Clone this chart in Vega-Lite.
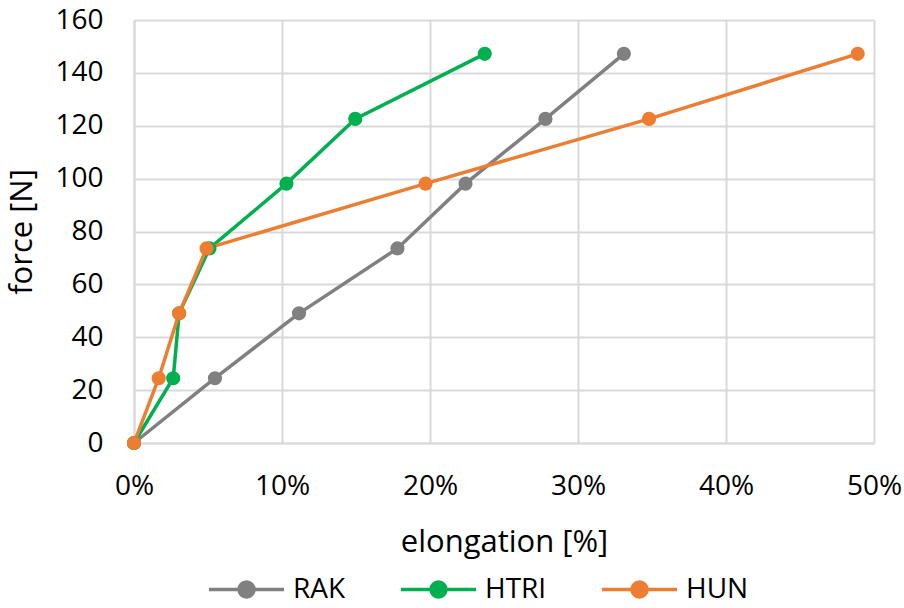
{
  "$schema": "https://vega.github.io/schema/vega-lite/v6.json",
  "width": 740,
  "height": 423,
  "autosize": {"type": "none"},
  "padding": {"left": 134, "top": 20, "right": 30, "bottom": 165},
  "background": "white",
  "config": {
    "font": "Open Sans",
    "view": {"stroke": null},
    "axis": {
      "labelFont": "Open Sans",
      "titleFont": "Open Sans",
      "labelFontSize": 28,
      "titleFontSize": 31,
      "labelColor": "#000000",
      "titleColor": "#000000",
      "titleFontWeight": "normal",
      "gridColor": "#D9D9D9",
      "gridWidth": 2,
      "domainColor": "#D9D9D9",
      "domainWidth": 2,
      "ticks": false
    }
  },
  "data": {
    "values": [
      {"series": "RAK", "elong": 0, "force": 0},
      {"series": "RAK", "elong": 0.0547, "force": 24.5},
      {"series": "RAK", "elong": 0.1115, "force": 49.05},
      {"series": "RAK", "elong": 0.178, "force": 73.6},
      {"series": "RAK", "elong": 0.224, "force": 98.1},
      {"series": "RAK", "elong": 0.278, "force": 122.6},
      {"series": "RAK", "elong": 0.331, "force": 147.2},
      {"series": "HTRI", "elong": 0, "force": 0},
      {"series": "HTRI", "elong": 0.0265, "force": 24.5},
      {"series": "HTRI", "elong": 0.0305, "force": 49.05},
      {"series": "HTRI", "elong": 0.051, "force": 73.6},
      {"series": "HTRI", "elong": 0.103, "force": 98.1},
      {"series": "HTRI", "elong": 0.1495, "force": 122.6},
      {"series": "HTRI", "elong": 0.237, "force": 147.2},
      {"series": "HUN", "elong": 0, "force": 0},
      {"series": "HUN", "elong": 0.0167, "force": 24.5},
      {"series": "HUN", "elong": 0.0305, "force": 49.05},
      {"series": "HUN", "elong": 0.049, "force": 73.6},
      {"series": "HUN", "elong": 0.197, "force": 98.1},
      {"series": "HUN", "elong": 0.348, "force": 122.6},
      {"series": "HUN", "elong": 0.489, "force": 147.2}
    ]
  },
  "mark": {"type": "line", "strokeWidth": 3.5, "point": {"filled": true, "size": 200, "opacity": 1}},
  "encoding": {
    "x": {
      "field": "elong",
      "type": "quantitative",
      "scale": {"domain": [0, 0.5], "nice": false},
      "axis": {"format": "%", "values": [0, 0.1, 0.2, 0.3, 0.4, 0.5], "title": "elongation [%]", "labelPadding": 29, "titlePadding": 27, "labelFlush": false}
    },
    "y": {
      "field": "force",
      "type": "quantitative",
      "scale": {"domain": [0, 160], "nice": false},
      "axis": {"values": [0, 20, 40, 60, 80, 100, 120, 140, 160], "title": "force [N]", "labelPadding": 31, "titlePadding": 16, "labelFlush": false}
    },
    "color": {
      "field": "series",
      "type": "nominal",
      "scale": {"domain": ["RAK", "HTRI", "HUN"], "range": ["#808080", "#00B050", "#ED7D31"]},
      "legend": {
        "title": null,
        "orient": "none",
        "direction": "horizontal",
        "legendX": 73,
        "legendY": 530,
        "labelFont": "Open Sans",
        "labelFontSize": 28,
        "labelColor": "#000000",
        "labelOffset": 7,
        "columnPadding": 48,
        "symbolType": "M-1,0L1,0M0.2,0A0.2,0.2,0,1,1,-0.2,0A0.2,0.2,0,1,1,0.2,0Z",
        "symbolSize": 5625,
        "symbolStrokeWidth": 3.5,
        "encode": {
          "symbols": {
            "update": {
              "fill": {"scale": "color", "field": "value"},
              "stroke": {"scale": "color", "field": "value"},
              "opacity": {"value": 1}
            }
          }
        }
      }
    },
    "order": {"field": "force"}
  }
}
